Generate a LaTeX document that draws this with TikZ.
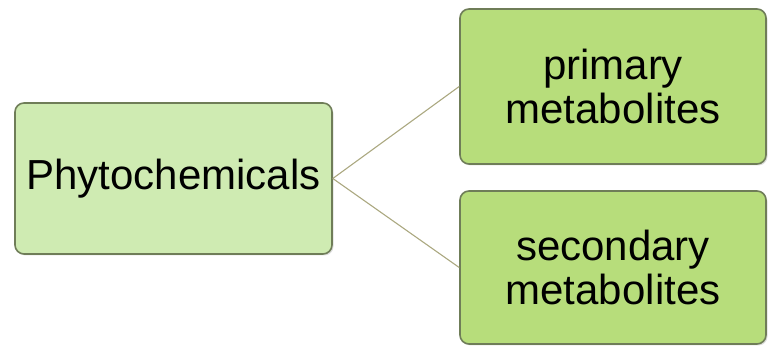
\documentclass[tikz,border=0pt]{standalone}
\usepackage{fontspec}
\setmainfont{Liberation Sans}
\usepackage{tikz}
\usetikzlibrary{positioning,shadows}

\definecolor{rootgreen}{HTML}{CFEBB2}
\definecolor{leafgreen}{HTML}{B7DD7B}
\definecolor{boxedge}{HTML}{6F7D58}
\definecolor{linkline}{HTML}{ABA880}

\begin{document}
\begin{tikzpicture}[x=1pt,y=1pt,
  box/.style={draw=boxedge,line width=1.6pt,rounded corners=9pt,align=center,
    inner sep=0pt,font=\fontsize{42}{44}\selectfont,
    drop shadow={shadow xshift=1.5pt,shadow yshift=-1.5pt,opacity=.25}},
  link/.style={draw=linkline,line width=1.1pt}]
% page frame (769 x 350)
\useasboundingbox (0,0) rectangle (769,350);

% root box
\node[box,fill=rootgreen,minimum width=317,minimum height=151] (phyto) at (173.5,171.5) {Phytochemicals};

% the two classes
\node[box,fill=leafgreen,minimum width=306,minimum height=155] (primary) at (613,263.5) {primary\\metabolites};
\node[box,fill=leafgreen,minimum width=306,minimum height=153] (secondary) at (613,82.5) {secondary\\metabolites};

% connectors
\draw[link] (phyto.east) -- (primary.west);
\draw[link] (phyto.east) -- (secondary.west);
\end{tikzpicture}
\end{document}
